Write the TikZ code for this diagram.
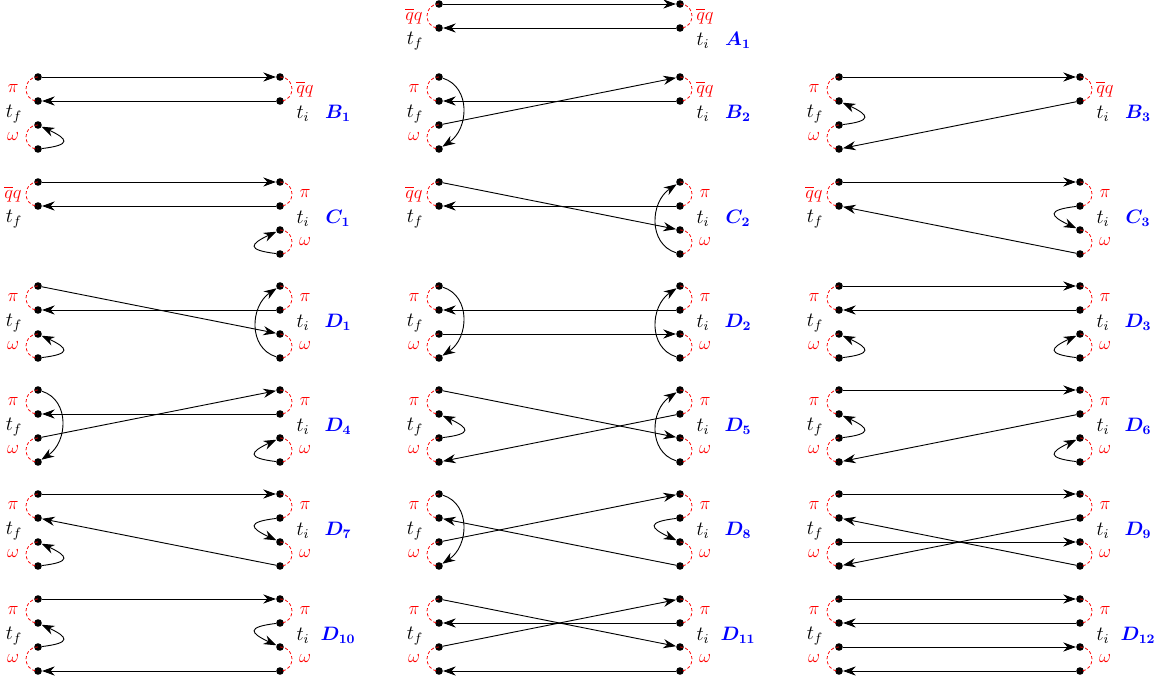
\documentclass[tikz,border=0pt]{standalone}
\usepackage{tikz}
\usetikzlibrary{arrows.meta}
\usepackage{amsmath}
\tikzset{dot/.style={circle, fill=black, inner sep=0pt, minimum size=0.19cm},
         pairloop/.style={red, dash pattern=on 2.2pt off 1.6pt, line width=0.55pt},
         lbl/.style={red, font=\large, transform shape, scale=1.1},
         tlbl/.style={black, font=\large, transform shape, scale=1.2},
         tag/.style={blue, font=\large, transform shape, scale=1.15},
         arr/.style={-{Stealth[length=9pt, width=6.5pt]}, line width=0.65pt}}

% left pair of dots: top name, bottom name, x, top y, label
\newcommand{\lpair}[5]{%
  \node[dot] (#1) at (#3,-#4) {};
  \node[dot] (#2) at (#3,-#4-24) {};
  \draw[pairloop] (#1.center) .. controls +(-16,0) and +(-16,0) .. (#2.center);
  \node[lbl] (#1lbl) at (#3-25,-#4-12) {#5};
}
% right pair of dots
\newcommand{\rpair}[5]{%
  \node[dot] (#1) at (#3,-#4) {};
  \node[dot] (#2) at (#3,-#4-24) {};
  \draw[pairloop] (#1.center) .. controls +(16,0) and +(16,0) .. (#2.center);
  \node[lbl] (#1lbl) at (#3+25,-#4-12) {#5};
}
% t_f, t_i and the diagram name
\newcommand{\tnames}[5]{%
  \node[tlbl] (#1tf) at (#2-24,-#4-37) {$t_f$};
  \node[tlbl] (#1ti) at (#3+23,-#4-37) {$t_i$};
  \node[tag] (#1tag) at (#3+58,-#4-36) {$\boldsymbol{#5}$};
}

\begin{document}
\begin{tikzpicture}[x=0.025cm, y=0.025cm]
        \useasboundingbox (0,0) rectangle (1160,-682);

        % A1
        \lpair{A1l1}{A1l2}{439}{4}{$\overline{q}q$}
        \rpair{A1r1}{A1r2}{680}{4}{$\overline{q}q$}
        \tnames{A1}{439}{680}{4}{A_1}
        \draw[arr] (A1l1) -- (A1r1);
        \draw[arr] (A1r2) -- (A1l2);

        % B1
        \lpair{B1l1}{B1l2}{38}{77}{$\pi$}
        \lpair{B1l3}{B1l4}{38}{125}{$\omega$}
        \rpair{B1r1}{B1r2}{280}{77}{$\overline{q}q$}
        \tnames{B1}{38}{280}{77}{B_1}
        \draw[arr] (B1l1) -- (B1r1);
        \draw[arr] (B1r2) -- (B1l2);
        \draw[arr] (B1l4) .. controls +(34,4) and +(30,-14) .. (B1l3);

        % B2
        \lpair{B2l1}{B2l2}{439}{77}{$\pi$}
        \lpair{B2l3}{B2l4}{439}{125}{$\omega$}
        \rpair{B2r1}{B2r2}{680}{77}{$\overline{q}q$}
        \tnames{B2}{439}{680}{77}{B_2}
        \draw[arr] (B2l1) .. controls +(32,-10) and +(30,20) .. (B2l4);
        \draw[arr] (B2r2) -- (B2l2);
        \draw[arr] (B2l3) -- (B2r1);

        % B3
        \lpair{B3l1}{B3l2}{839}{77}{$\pi$}
        \lpair{B3l3}{B3l4}{839}{125}{$\omega$}
        \rpair{B3r1}{B3r2}{1080}{77}{$\overline{q}q$}
        \tnames{B3}{839}{1080}{77}{B_3}
        \draw[arr] (B3l1) -- (B3r1);
        \draw[arr] (B3l3) .. controls +(34,4) and +(30,-14) .. (B3l2);
        \draw[arr] (B3r2) -- (B3l4);

        % C1
        \lpair{C1l1}{C1l2}{38}{182}{$\overline{q}q$}
        \rpair{C1r1}{C1r2}{280}{182}{$\pi$}
        \rpair{C1r3}{C1r4}{280}{230}{$\omega$}
        \tnames{C1}{38}{280}{182}{C_1}
        \draw[arr] (C1l1) -- (C1r1);
        \draw[arr] (C1r2) -- (C1l2);
        \draw[arr] (C1r4) .. controls +(-34,4) and +(-30,-14) .. (C1r3);

        % C2
        \lpair{C2l1}{C2l2}{439}{182}{$\overline{q}q$}
        \rpair{C2r1}{C2r2}{680}{182}{$\pi$}
        \rpair{C2r3}{C2r4}{680}{230}{$\omega$}
        \tnames{C2}{439}{680}{182}{C_2}
        \draw[arr] (C2l1) -- (C2r3);
        \draw[arr] (C2r2) -- (C2l2);
        \draw[arr] (C2r4) .. controls +(-32,10) and +(-30,-20) .. (C2r1);

        % C3
        \lpair{C3l1}{C3l2}{839}{182}{$\overline{q}q$}
        \rpair{C3r1}{C3r2}{1080}{182}{$\pi$}
        \rpair{C3r3}{C3r4}{1080}{230}{$\omega$}
        \tnames{C3}{839}{1080}{182}{C_3}
        \draw[arr] (C3l1) -- (C3r1);
        \draw[arr] (C3r4) -- (C3l2);
        \draw[arr] (C3r2) .. controls +(-34,-4) and +(-30,14) .. (C3r3);

        % D1
        \lpair{D1l1}{D1l2}{38}{286}{$\pi$}
        \lpair{D1l3}{D1l4}{38}{334}{$\omega$}
        \rpair{D1r1}{D1r2}{280}{286}{$\pi$}
        \rpair{D1r3}{D1r4}{280}{334}{$\omega$}
        \tnames{D1}{38}{280}{286}{D_1}
        \draw[arr] (D1l1) -- (D1r3);
        \draw[arr] (D1r2) -- (D1l2);
        \draw[arr] (D1r4) .. controls +(-32,10) and +(-30,-20) .. (D1r1);
        \draw[arr] (D1l4) .. controls +(34,4) and +(30,-14) .. (D1l3);

        % D2
        \lpair{D2l1}{D2l2}{439}{286}{$\pi$}
        \lpair{D2l3}{D2l4}{439}{334}{$\omega$}
        \rpair{D2r1}{D2r2}{680}{286}{$\pi$}
        \rpair{D2r3}{D2r4}{680}{334}{$\omega$}
        \tnames{D2}{439}{680}{286}{D_2}
        \draw[arr] (D2l1) .. controls +(32,-10) and +(30,20) .. (D2l4);
        \draw[arr] (D2r2) -- (D2l2);
        \draw[arr] (D2l3) -- (D2r3);
        \draw[arr] (D2r4) .. controls +(-32,10) and +(-30,-20) .. (D2r1);

        % D3
        \lpair{D3l1}{D3l2}{839}{286}{$\pi$}
        \lpair{D3l3}{D3l4}{839}{334}{$\omega$}
        \rpair{D3r1}{D3r2}{1080}{286}{$\pi$}
        \rpair{D3r3}{D3r4}{1080}{334}{$\omega$}
        \tnames{D3}{839}{1080}{286}{D_3}
        \draw[arr] (D3l1) -- (D3r1);
        \draw[arr] (D3r2) -- (D3l2);
        \draw[arr] (D3l4) .. controls +(34,4) and +(30,-14) .. (D3l3);
        \draw[arr] (D3r4) .. controls +(-34,4) and +(-30,-14) .. (D3r3);

        % D4
        \lpair{D4l1}{D4l2}{38}{390}{$\pi$}
        \lpair{D4l3}{D4l4}{38}{438}{$\omega$}
        \rpair{D4r1}{D4r2}{280}{390}{$\pi$}
        \rpair{D4r3}{D4r4}{280}{438}{$\omega$}
        \tnames{D4}{38}{280}{390}{D_4}
        \draw[arr] (D4l1) .. controls +(32,-10) and +(30,20) .. (D4l4);
        \draw[arr] (D4r2) -- (D4l2);
        \draw[arr] (D4l3) -- (D4r1);
        \draw[arr] (D4r4) .. controls +(-34,4) and +(-30,-14) .. (D4r3);

        % D5
        \lpair{D5l1}{D5l2}{439}{390}{$\pi$}
        \lpair{D5l3}{D5l4}{439}{438}{$\omega$}
        \rpair{D5r1}{D5r2}{680}{390}{$\pi$}
        \rpair{D5r3}{D5r4}{680}{438}{$\omega$}
        \tnames{D5}{439}{680}{390}{D_5}
        \draw[arr] (D5l1) -- (D5r3);
        \draw[arr] (D5l3) .. controls +(34,4) and +(30,-14) .. (D5l2);
        \draw[arr] (D5r2) -- (D5l4);
        \draw[arr] (D5r4) .. controls +(-32,10) and +(-30,-20) .. (D5r1);

        % D6
        \lpair{D6l1}{D6l2}{839}{390}{$\pi$}
        \lpair{D6l3}{D6l4}{839}{438}{$\omega$}
        \rpair{D6r1}{D6r2}{1080}{390}{$\pi$}
        \rpair{D6r3}{D6r4}{1080}{438}{$\omega$}
        \tnames{D6}{839}{1080}{390}{D_6}
        \draw[arr] (D6l1) -- (D6r1);
        \draw[arr] (D6l3) .. controls +(34,4) and +(30,-14) .. (D6l2);
        \draw[arr] (D6r2) -- (D6l4);
        \draw[arr] (D6r4) .. controls +(-34,4) and +(-30,-14) .. (D6r3);

        % D7
        \lpair{D7l1}{D7l2}{38}{494}{$\pi$}
        \lpair{D7l3}{D7l4}{38}{542}{$\omega$}
        \rpair{D7r1}{D7r2}{280}{494}{$\pi$}
        \rpair{D7r3}{D7r4}{280}{542}{$\omega$}
        \tnames{D7}{38}{280}{494}{D_7}
        \draw[arr] (D7l1) -- (D7r1);
        \draw[arr] (D7r4) -- (D7l2);
        \draw[arr] (D7l4) .. controls +(34,4) and +(30,-14) .. (D7l3);
        \draw[arr] (D7r2) .. controls +(-34,-4) and +(-30,14) .. (D7r3);

        % D8
        \lpair{D8l1}{D8l2}{439}{494}{$\pi$}
        \lpair{D8l3}{D8l4}{439}{542}{$\omega$}
        \rpair{D8r1}{D8r2}{680}{494}{$\pi$}
        \rpair{D8r3}{D8r4}{680}{542}{$\omega$}
        \tnames{D8}{439}{680}{494}{D_8}
        \draw[arr] (D8l1) .. controls +(32,-10) and +(30,20) .. (D8l4);
        \draw[arr] (D8r4) -- (D8l2);
        \draw[arr] (D8l3) -- (D8r1);
        \draw[arr] (D8r2) .. controls +(-34,-4) and +(-30,14) .. (D8r3);

        % D9
        \lpair{D9l1}{D9l2}{839}{494}{$\pi$}
        \lpair{D9l3}{D9l4}{839}{542}{$\omega$}
        \rpair{D9r1}{D9r2}{1080}{494}{$\pi$}
        \rpair{D9r3}{D9r4}{1080}{542}{$\omega$}
        \tnames{D9}{839}{1080}{494}{D_9}
        \draw[arr] (D9l1) -- (D9r1);
        \draw[arr] (D9r4) -- (D9l2);
        \draw[arr] (D9l3) -- (D9r3);
        \draw[arr] (D9r2) -- (D9l4);

        % D10
        \lpair{D10l1}{D10l2}{38}{599}{$\pi$}
        \lpair{D10l3}{D10l4}{38}{647}{$\omega$}
        \rpair{D10r1}{D10r2}{280}{599}{$\pi$}
        \rpair{D10r3}{D10r4}{280}{647}{$\omega$}
        \tnames{D10}{38}{280}{599}{D_{10}}
        \draw[arr] (D10l1) -- (D10r1);
        \draw[arr] (D10l3) .. controls +(34,4) and +(30,-14) .. (D10l2);
        \draw[arr] (D10r2) .. controls +(-34,-4) and +(-30,14) .. (D10r3);
        \draw[arr] (D10r4) -- (D10l4);

        % D11
        \lpair{D11l1}{D11l2}{439}{599}{$\pi$}
        \lpair{D11l3}{D11l4}{439}{647}{$\omega$}
        \rpair{D11r1}{D11r2}{680}{599}{$\pi$}
        \rpair{D11r3}{D11r4}{680}{647}{$\omega$}
        \tnames{D11}{439}{680}{599}{D_{11}}
        \draw[arr] (D11l1) -- (D11r3);
        \draw[arr] (D11r2) -- (D11l2);
        \draw[arr] (D11l3) -- (D11r1);
        \draw[arr] (D11r4) -- (D11l4);

        % D12
        \lpair{D12l1}{D12l2}{839}{599}{$\pi$}
        \lpair{D12l3}{D12l4}{839}{647}{$\omega$}
        \rpair{D12r1}{D12r2}{1080}{599}{$\pi$}
        \rpair{D12r3}{D12r4}{1080}{647}{$\omega$}
        \tnames{D12}{839}{1080}{599}{D_{12}}
        \draw[arr] (D12l1) -- (D12r1);
        \draw[arr] (D12r2) -- (D12l2);
        \draw[arr] (D12l3) -- (D12r3);
        \draw[arr] (D12r4) -- (D12l4);

\end{tikzpicture}
\end{document}
